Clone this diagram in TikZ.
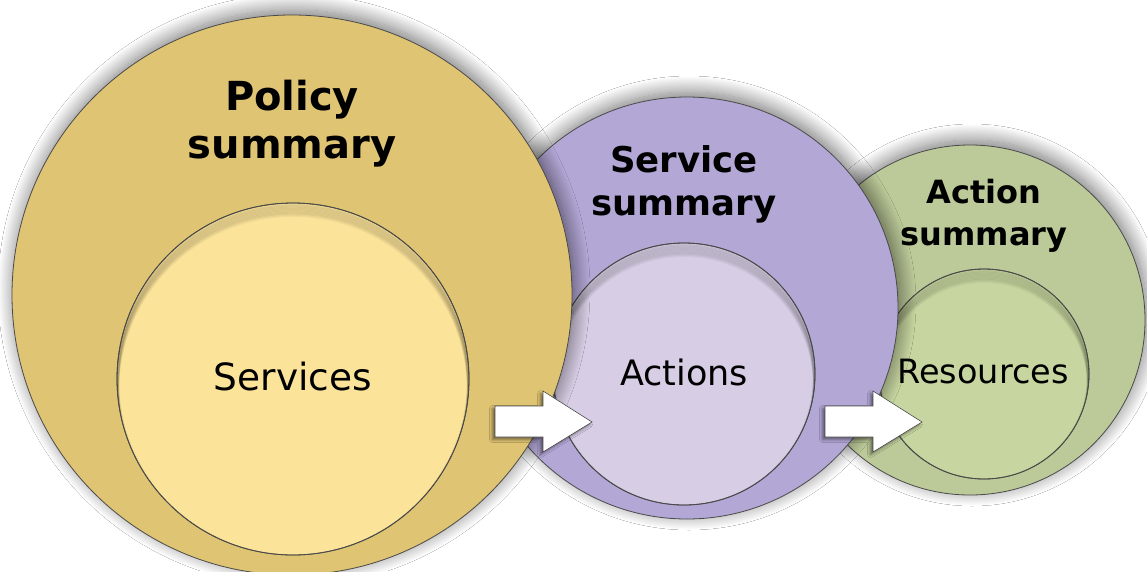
\documentclass[tikz,border=0pt]{standalone}
\usepackage{fontspec}
\setmainfont{DejaVu Sans}
\usetikzlibrary{shadows.blur}
\definecolor{goldout}{HTML}{DFC473}
\definecolor{goldin}{HTML}{FBE39A}
\definecolor{purpout}{HTML}{B3A7D6}
\definecolor{purpin}{HTML}{D7CDE4}
\definecolor{greenout}{HTML}{BCCA99}
\definecolor{greenin}{HTML}{C7D6A0}
\definecolor{edge}{HTML}{4A4A4A}
\tikzset{
  outerc/.style={circle, draw=edge, line width=0.8pt, inner sep=0pt,
    blur shadow={shadow xshift=2pt, shadow yshift=5pt, shadow blur radius=16pt, shadow blur steps=20, shadow opacity=55}},
  innerc/.style={circle, draw=edge, line width=0.8pt, inner sep=0pt},
  heading/.style={font=\bfseries, align=center, text=black},
  plain/.style={text=black},
  blockarrow/.style={fill=white, draw=edge, line width=0.6pt,
    blur shadow={shadow xshift=-2.5pt, shadow yshift=-2.5pt, shadow blur radius=3pt, shadow opacity=50}},
  inshadow/.style={draw=black, opacity=0.035, line width=4pt}
}
\begin{document}
\begin{tikzpicture}[x=1pt, y=-1pt]
\useasboundingbox (0,0) rectangle (1147,571);
\clip (0,0) rectangle (1147,571);
\fill[white] (0,0) rectangle (1147,571);

% Action summary (green)
\node[outerc, fill=greenout, minimum size=350pt] (actsum) at (970,320) {};
\node[innerc, fill=greenin, minimum size=210pt] (res) at (984,374) {};
\begin{scope}
  \clip (res.center) circle (105pt);
  \foreach \i in {1,...,10} \draw[inshadow] ([yshift=-\i*1.2pt]res.center) circle (105pt);
\end{scope}
\draw[edge, line width=0.8pt] (res.center) circle (105pt);

% Service summary (purple)
\node[outerc, fill=purpout, minimum size=422pt] (servsum) at (687,308) {};
\node[innerc, fill=purpin, minimum size=262pt] (act) at (684,374) {};
\begin{scope}
  \clip (act.center) circle (131pt);
  \foreach \i in {1,...,10} \draw[inshadow] ([yshift=-\i*1.2pt]act.center) circle (131pt);
\end{scope}
\draw[edge, line width=0.8pt] (act.center) circle (131pt);

% Policy summary (gold)
\node[outerc, fill=goldout, minimum size=560pt] (polsum) at (292,295) {};
\node[innerc, fill=goldin, minimum size=352pt] (serv) at (293,379) {};
\begin{scope}
  \clip (serv.center) circle (176pt);
  \foreach \i in {1,...,10} \draw[inshadow] ([yshift=-\i*1.2pt]serv.center) circle (176pt);
\end{scope}
\draw[edge, line width=0.8pt] (serv.center) circle (176pt);

% Texts
\node[heading, font=\bfseries\fontsize{40}{48}\selectfont] (tpol) at (292,124) {Policy\\summary};
\node[heading, font=\bfseries\fontsize{35.5}{43}\selectfont] (tserv) at (684,184) {Service\\summary};
\node[heading, font=\bfseries\fontsize{32}{42}\selectfont] (tact) at (984,216) {Action\\summary};
\node[plain, font=\fontsize{37.5}{44}\selectfont] (tservices) at (293,377) {Services};
\node[plain, font=\fontsize{35}{42}\selectfont] (tactions) at (684,372) {Actions};
\node[plain, font=\fontsize{33.5}{40}\selectfont] (tres) at (983,372) {Resources};

% Block arrows
\draw[blockarrow] (495,406) -- (543,406) -- (543,391) -- (592,422) -- (543,452) -- (543,437) -- (495,437) -- cycle;
\draw[blockarrow] (825,406) -- (873,406) -- (873,391) -- (922,422) -- (873,452) -- (873,437) -- (825,437) -- cycle;
\end{tikzpicture}
\end{document}
